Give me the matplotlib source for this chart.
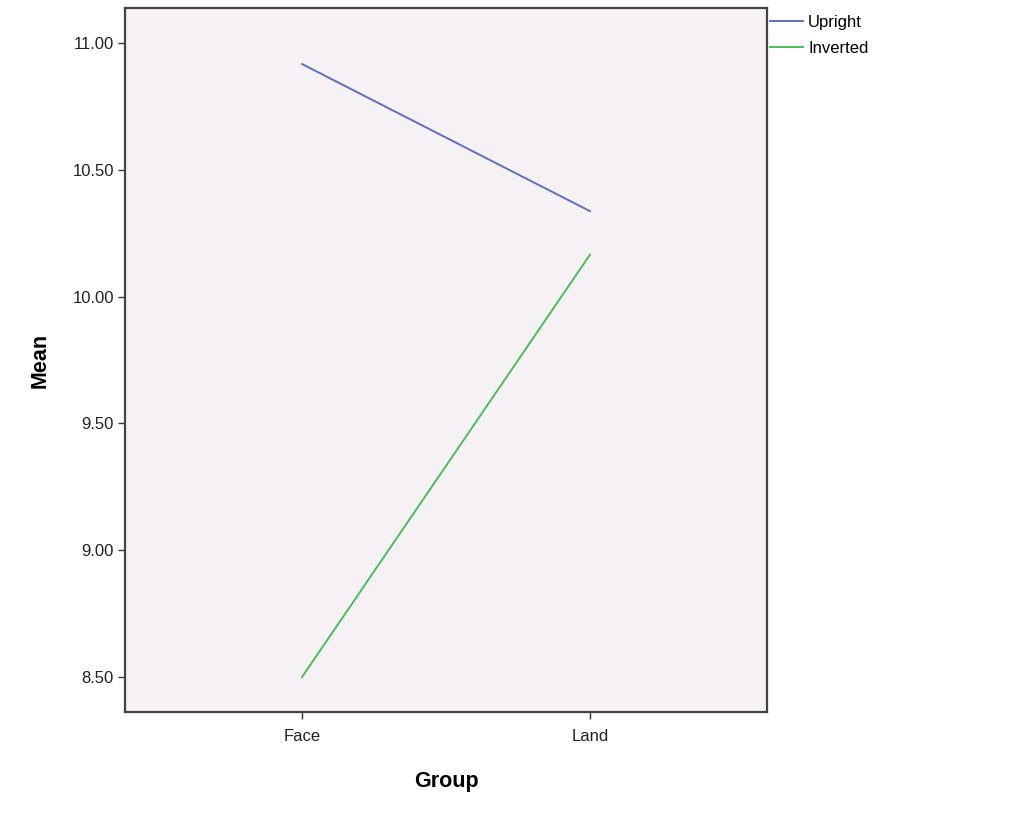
import matplotlib.pyplot as plt

plt.rcParams['font.family'] = ['Liberation Sans', 'DejaVu Sans']

groups = ['Face', 'Land']
upright = [10.917, 10.337]
inverted = [8.50, 10.165]
yticks = [8.50, 9.00, 9.50, 10.00, 10.50, 11.00]

fig = plt.figure(figsize=(10.23, 8.19), dpi=100)
ax = fig.add_axes([125/1023, 1-712/819, 642/1023, 704/819])
ax.set_facecolor('#f5f1f5')

x = range(len(groups))
l1, = ax.plot(x, upright, color='#5b6fc8', lw=1.4, label='Upright')
l2, = ax.plot(x, inverted, color='#48bf58', lw=1.4, label='Inverted')

ax.set_xlim(-0.615, 1.615)
ax.set_ylim(8.362, 11.138)
ax.set_xticks(list(x))
ax.set_xticklabels(groups)
ax.set_yticks(yticks)
ax.set_yticklabels([f'{v:.2f}' for v in yticks])
ax.tick_params(labelsize=12, colors='#333333', length=5, width=1, labelcolor='#222222')
ax.tick_params(axis='x', pad=7)
ax.tick_params(axis='y', pad=3)
for s in ax.spines.values():
    s.set_linewidth(1.6)
    s.set_color('#444444')

ax.set_xlabel('Group', fontsize=15.5, fontweight='bold', labelpad=20)
ax.set_ylabel('Mean', fontsize=15.5, fontweight='bold', labelpad=16)

fig.legend(handles=[l1, l2], loc='upper left', bbox_to_anchor=(768/1023, 1-13/819),
           frameon=False, fontsize=12, handlelength=2.0, handletextpad=0.3,
           labelspacing=0.7, borderaxespad=0, borderpad=0.1)

fig.savefig('out.png', dpi=100)
